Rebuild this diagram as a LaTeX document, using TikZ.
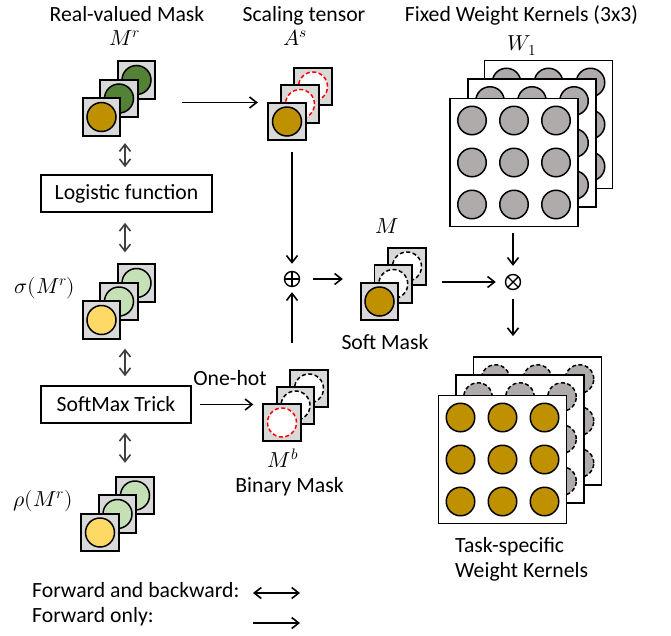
\documentclass[tikz,border=0pt]{standalone}
\usepackage{fontspec}
\usepackage{unicode-math}
\setmainfont{Carlito}
\setmathfont{Latin Modern Math}
\usetikzlibrary{arrows.meta,calc}
\definecolor{gold}{HTML}{BF9000}
\definecolor{dgreen}{HTML}{538135}
\definecolor{lgreen}{HTML}{C5E0B4}
\definecolor{lyellow}{HTML}{FFD966}
\definecolor{sqgray}{HTML}{D9D9D9}
\definecolor{kgray}{HTML}{AFABAB}
\definecolor{dblgray}{HTML}{404040}
\newcommand{\mstack}[8]{%
  \node[sq] (#1B) at (#2+2*#4,#3+2*#5) {};
  \node[circ,#6] (#1Bc) at (#1B) {};
  \node[sq] (#1M) at (#2+#4,#3+#5) {};
  \node[circ,#7] (#1Mc) at (#1M) {};
  \node[sq] (#1F) at (#2,#3) {};
  \node[circ,#8] (#1Fc) at (#1F) {};
}
\newcommand{\klayer}[4]{%
  \node[ksq] (#1) at (#2,#3) {};
  \foreach \i in {-1,0,1}{\foreach \j in {-1,0,1}{
    \node[kc,#4] (#1c\i\j) at ($(#1)+(\i*42,\j*42)$) {};}}
}
\begin{document}
\begin{tikzpicture}[x=1pt,y=-1pt,
  txt/.style={font=\fontsize{21.7}{26}\selectfont,inner sep=0},
  sq/.style={draw,line width=1.8,fill=sqgray,minimum size=37.5,inner sep=0},
  circ/.style={circle,draw,line width=1.5,minimum size=29,inner sep=0},
  gold circ/.style={fill=gold},
  dg circ/.style={fill=dgreen},
  lg circ/.style={fill=lgreen},
  ly circ/.style={fill=lyellow},
  red dash/.style={draw=red,fill=white,dash pattern=on 4pt off 2.5pt},
  blk dash/.style={draw=black,fill=white,dash pattern=on 4pt off 2.5pt},
  ksq/.style={draw,line width=1.8,fill=white,minimum size=128,inner sep=0},
  kc/.style={circle,draw,line width=1.5,minimum size=28.5,inner sep=0},
  kgray circ/.style={fill=kgray},
  kdash circ/.style={fill=kgray,dash pattern=on 4pt off 2.5pt},
  fbox/.style={draw,line width=1.6,inner sep=0,font=\fontsize{21.7}{26}\selectfont},
  fwd/.style={line width=1.6,-{Straight Barb[length=7pt,width=11pt]}},
  both/.style={line width=1.6,{Straight Barb[length=7pt,width=11pt]}-{Straight Barb[length=7pt,width=11pt]}},
  dbl/.style={both,draw=dblgray},
  opnode/.style={circle,draw,line width=1.4,minimum size=15,inner sep=0},
]
\useasboundingbox (0,0) rectangle (671,635);

% titles
\node[txt,anchor=base] (t1) at (127,21) {Real-valued Mask};
\node[txt,anchor=base] (t1m) at (125,45) {$M^r$};
\node[txt,anchor=base] (t2) at (304,21) {Scaling tensor};
\node[txt,anchor=base] (t2m) at (295,45) {$A^s$};
\node[txt,anchor=base] (t3) at (521.5,21) {Fixed Weight Kernels (3x3)};
\node[txt,anchor=base] (t3m) at (522,50) {$W_1$};

% left column stacks
\mstack{mr}{101.5}{117}{17.5}{-18.5}{dg circ}{dg circ}{gold circ}
\mstack{sg}{101.5}{320}{17.5}{-18.5}{lg circ}{lg circ}{ly circ}
\mstack{rh}{100}{532.5}{17.5}{-18.5}{lg circ}{lg circ}{ly circ}
\node[txt,anchor=base] (sgl) at (45,293) {$\sigma(M^r)$};
\node[txt,anchor=base] (rhl) at (43,506) {$\rho(M^r)$};

% boxes
\node[fbox,minimum width=171,minimum height=37] (logi) at (126.5,193.5) {Logistic function};
\node[fbox,minimum width=150,minimum height=37] (smax) at (116,404.5) {SoftMax Trick};

% middle stacks
\mstack{as}{287}{121.5}{13}{-17.5}{red dash}{red dash}{gold circ}
\mstack{sm}{379.5}{301.5}{13.75}{-17.5}{blk dash}{blk dash}{gold circ}
\mstack{mb}{282}{422.5}{13.5}{-17}{blk dash}{blk dash}{red dash}
\node[txt,anchor=base] (sml) at (387,233) {$M$};
\node[txt,anchor=base] (smt) at (385,349) {Soft Mask};
\node[txt,anchor=base] (oh) at (230,385) {One-hot};
\node[txt,anchor=base] (mbl) at (283,467) {$M^b$};
\node[txt,anchor=base] (mbt) at (289.5,492) {Binary Mask};

% kernel stacks
\klayer{wB}{548.5}{124.5}{kgray circ}
\klayer{wM}{532}{143}{kgray circ}
\klayer{wF}{514}{162.5}{kgray circ}
\klayer{tB}{537.5}{421}{kdash circ}
\klayer{tM}{520}{439}{kdash circ}
\klayer{tF}{502.5}{459.5}{gold circ}
\node[txt,anchor=base west] (tt1) at (455,552) {Task-specific};
\node[txt,anchor=base west] (tt2) at (455,577) {Weight Kernels};

% operators
\node[opnode,path picture={\draw[line width=1.4] (path picture bounding box.north) -- (path picture bounding box.south) (path picture bounding box.west) -- (path picture bounding box.east);}] (plus) at (292,279) {};
\node[opnode,path picture={\draw[line width=1.4] (path picture bounding box.north west) -- (path picture bounding box.south east) (path picture bounding box.south west) -- (path picture bounding box.north east);}] (times) at (513,282) {};

% connectors
\coordinate (colx) at (125,0);
\draw[dbl,shorten <=6.5,shorten >=7] (colx |- mrF.south) -- (colx |- logi.north);
\draw[dbl,shorten <=10,shorten >=11] (colx |- logi.south) -- (colx |- sgB.north);
\draw[dbl,shorten <=9,shorten >=9] (colx |- sgF.south) -- (colx |- smax.north);
\draw[dbl,shorten <=9,shorten >=13] (colx |- smax.south) -- (colx |- rhB.north);

\draw[fwd,shorten <=26,shorten >=9.5] ($(mrB.east)+(0,22.5)$) -- ($(mrB.east -| asF.west)+(0,22.5)$);
\draw[fwd,shorten <=11,shorten >=7] (plus |- asF.south) -- (plus.north);
\draw[fwd,shorten <=26,shorten >=5] (plus |- mbB.north) -- (plus.south);
\draw[fwd,shorten <=13,shorten >=17] (plus.east) -- (plus.east -| smF.west);
\draw[fwd,shorten <=15,shorten >=9] (times.west -| smB.east) -- (times.west);
\draw[fwd,shorten <=6,shorten >=8] (times |- wF.south) -- (times.north);
\draw[fwd,shorten <=9,shorten >=20] (times.south) -- (times |- tB.north);
\draw[fwd,shorten <=8,shorten >=9] (smax.east) -- (smax.east -| mbF.west);

% legend
\node[txt,anchor=base west] (lg1) at (32,597) {Forward and backward:};
\node[txt,anchor=base west] (lg2) at (32,622) {Forward only:};
\coordinate (l1a) at (253,593);
\coordinate (l1b) at (300,593);
\coordinate (l2a) at (253,623);
\coordinate (l2b) at (300,623);
\draw[both] (l1a) -- (l1b);
\draw[fwd] (l2a) -- (l2b);
\end{tikzpicture}
\end{document}
